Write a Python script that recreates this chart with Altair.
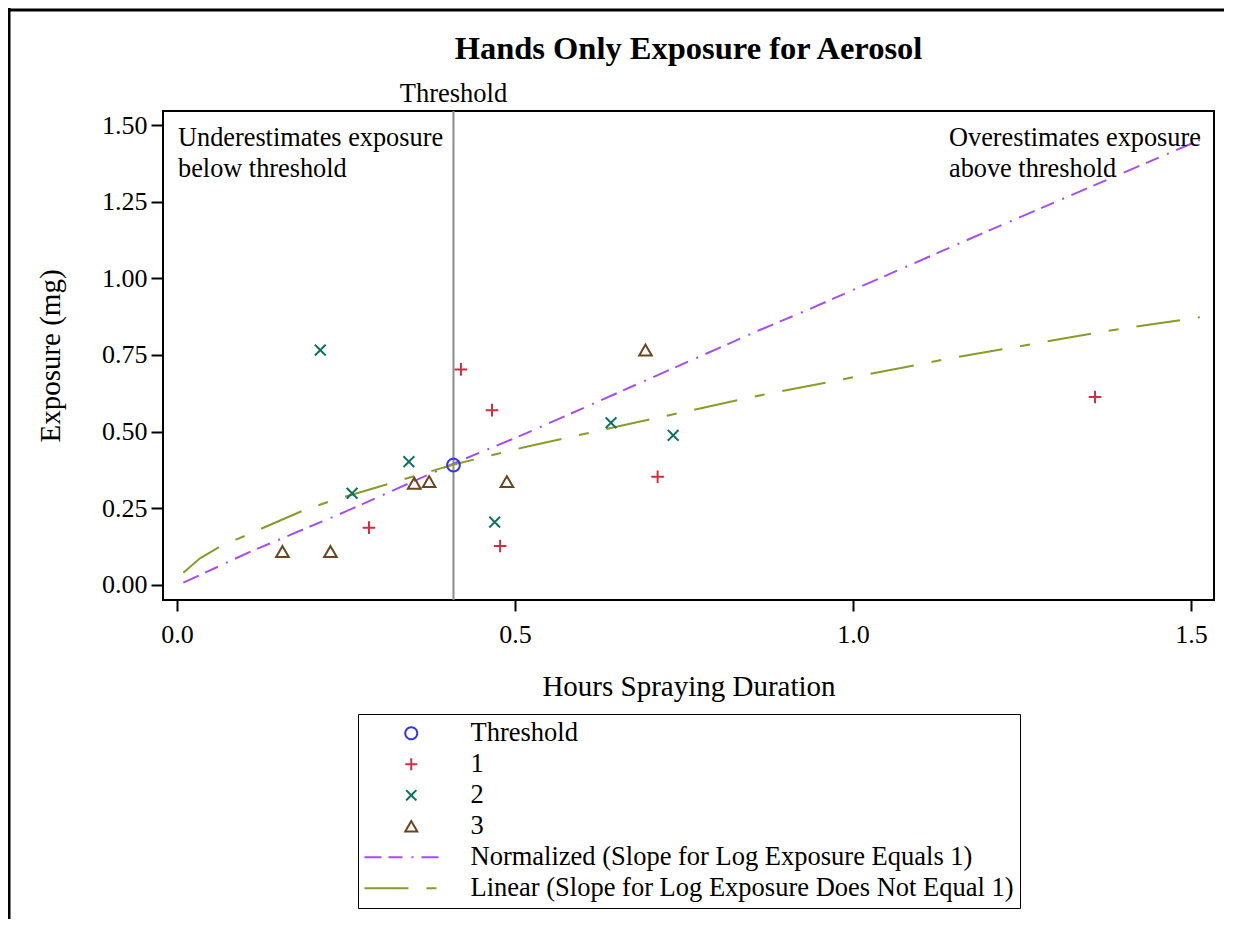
import altair as alt
import pandas as pd

FONT = "Liberation Serif"

# ---- data ----
series_domain = [
    "Threshold", "1", "2", "3",
    "Normalized (Slope for Log Exposure Equals 1)",
    "Linear (Slope for Log Exposure Does Not Equal 1)",
]
series_colors = ["#3535e0", "#cf2e43", "#0f6e62", "#6b4520", "#a64df0", "#8a9a2c"]

thr_x = [0.409]
thr_y = [0.391]

g1_x = [0.420, 0.466, 0.284, 0.478, 0.711, 1.358]
g1_y = [0.703, 0.570, 0.187, 0.127, 0.353, 0.613]

g2_x = [0.212, 0.259, 0.343, 0.470, 0.642, 0.734]
g2_y = [0.766, 0.299, 0.402, 0.205, 0.529, 0.488]

g3_x = [0.156, 0.227, 0.351, 0.373, 0.488, 0.693]
g3_y = [0.109, 0.109, 0.332, 0.337, 0.337, 0.766]

norm_x = [0.0094, 0.108, 0.249, 0.408, 0.517, 0.862, 0.9265, 1.200, 1.513]
norm_y = [0.0075, 0.108, 0.239, 0.395, 0.495, 0.8315, 0.891, 1.155, 1.451]

lin_x = [0.0094, 0.034, 0.0636, 0.189, 0.229, 0.408, 0.517, 0.848, 1.1435, 1.383, 1.513]
lin_y = [0.040, 0.087, 0.125, 0.245, 0.275, 0.392, 0.451, 0.612, 0.739, 0.831, 0.873]

x_ticks = [0.0, 0.5, 1.0, 1.5]
y_ticks = [0.0, 0.25, 0.5, 0.75, 1.0, 1.25, 1.5]

TITLE = "Hands Only Exposure for Aerosol"

# ---- tables ----
rows = []
for name, xs_, ys_ in [("Threshold", thr_x, thr_y), ("1", g1_x, g1_y),
                       ("2", g2_x, g2_y), ("3", g3_x, g3_y)]:
    for a, b in zip(xs_, ys_):
        rows.append({"x": a, "y": b, "series": name})
pts_df = pd.DataFrame(rows)
norm_df = pd.DataFrame({"x": norm_x, "y": norm_y})
lin_df = pd.DataFrame({"x": lin_x, "y": lin_y})
thr_df = pd.DataFrame({"x": thr_x, "y": thr_y})
one_df = pd.DataFrame({"a": [0]})

W, H = 1051, 489

xscale = alt.Scale(domain=[-0.0207, 1.534], nice=False, zero=False)
yscale = alt.Scale(domain=[-0.049, 1.5457], nice=False, zero=False)
xaxis = alt.Axis(values=x_ticks, format=".1f", title="Hours Spraying Duration",
                 tickSize=11, labelPadding=10, titlePadding=25)
yaxis = alt.Axis(values=y_ticks, format=".2f", title="Exposure (mg)",
                 tickSize=12, labelPadding=4, titlePadding=36)
X = alt.X("x:Q", scale=xscale, axis=xaxis)
Y = alt.Y("y:Q", scale=yscale, axis=yaxis)

shapes = [
    "circle",
    "M-1,0L1,0M0,-1L0,1",
    "M-0.85,-0.85L0.85,0.85M-0.85,0.85L0.85,-0.85",
    "triangle-up",
    "M-7.8,0L4.7,0",
    "M-7.8,0L4.7,0",
]
dashes = [[1, 0], [1, 0], [1, 0], [1, 0], [17, 7, 14, 9, 2, 8], [44, 18, 10, 18]]

leg = alt.Legend(
    title=None, orient="none", legendX=195, legendY=603, direction="vertical",
    strokeColor="black", padding=6, rowPadding=4, labelFont=FONT, labelFontSize=26.5,
    labelColor="black", labelLimit=900, labelOffset=46, symbolSize=144,
    symbolStrokeWidth=2, symbolOffset=34, fillColor="white",
)

points = alt.Chart(pts_df).mark_point(filled=False, size=160, strokeWidth=2, opacity=1).encode(
    x=X, y=Y,
    color=alt.Color("series:N", scale=alt.Scale(domain=series_domain, range=series_colors), legend=leg),
    shape=alt.Shape("series:N", scale=alt.Scale(domain=series_domain, range=shapes), legend=leg),
    strokeDash=alt.StrokeDash("series:N", scale=alt.Scale(domain=series_domain, range=dashes), legend=leg),
)

norm_line = alt.Chart(norm_df).mark_line(color="#a64df0", strokeWidth=2,
                                         strokeDash=[17, 7, 14, 9, 2, 8]).encode(x=X, y=Y)
lin_line = alt.Chart(lin_df).mark_line(color="#8a9a2c", strokeWidth=2,
                                       strokeDash=[44, 18, 10, 18]).encode(x=X, y=Y)

thr_rule = alt.Chart(thr_df).mark_rule(color="#8c8c8c", strokeWidth=2).encode(
    x=X, y=alt.value(0), y2=alt.value(H))
thr_text = alt.Chart(thr_df).mark_text(text="Threshold", font=FONT, fontSize=26.5,
                                       baseline="alphabetic", color="black").encode(
    x=X, y=alt.value(-9))

under_text = alt.Chart(one_df).mark_text(
    text=["Underestimates exposure", "below threshold"], font=FONT, fontSize=26.3,
    align="left", baseline="alphabetic", lineHeight=31, color="black").encode(
    x=alt.value(15), y=alt.value(35))
over_text = alt.Chart(one_df).mark_text(
    text=["Overestimates exposure", "above threshold"], font=FONT, fontSize=26.3,
    align="left", baseline="alphabetic", lineHeight=31, color="black").encode(
    x=alt.value(786), y=alt.value(35))

title_text = alt.Chart(one_df).mark_text(
    text=TITLE, font=FONT, fontSize=32.5, fontWeight="bold", align="center",
    baseline="alphabetic", color="black").encode(
    x=alt.value(W / 2), y=alt.value(-52))

border_left = alt.Chart(one_df).mark_rule(color="black", strokeWidth=3).encode(
    x=alt.value(-154), y=alt.value(-103), y2=alt.value(808))
border_top = alt.Chart(one_df).mark_rule(color="black", strokeWidth=3).encode(
    x=alt.value(-155), x2=alt.value(W + 10), y=alt.value(-101))

chart = alt.layer(
    thr_rule, norm_line, lin_line, points, thr_text, under_text, over_text,
    title_text, border_left, border_top,
).properties(
    width=W, height=H,
    autosize=alt.AutoSizeParams(type="none"),
    padding={"left": 155, "top": 103, "right": 10, "bottom": 319},
).configure_view(
    stroke="black", strokeWidth=2
).configure_axis(
    grid=False, domain=False, labelFont=FONT, labelFontSize=26, labelColor="black",
    titleFont=FONT, titleFontSize=29, titleFontWeight="normal", titleColor="black",
    tickColor="black", tickWidth=2,
)

chart.save("out.html", embed_options={"renderer": "svg", "actions": False})
